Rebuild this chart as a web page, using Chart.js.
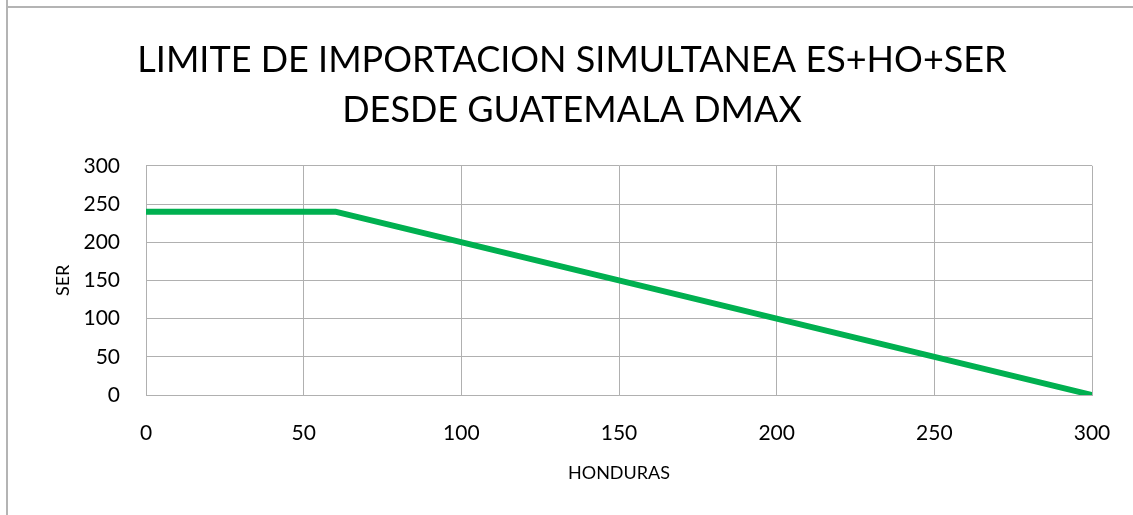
<!DOCTYPE html>
<html>
<head>
<meta charset="utf-8">
<script src="https://cdn.jsdelivr.net/npm/chart.js@4/dist/chart.umd.min.js"></script>
<style>
  html,body{margin:0;padding:0;background:#fff;}
  #wrap{position:relative;width:1133px;height:515px;overflow:hidden;}
  #edgeL{position:absolute;left:6px;top:0;width:2px;height:515px;background:#b4b4b4;}
  #edgeT{position:absolute;left:6px;top:6px;width:1127px;height:2px;background:#b4b4b4;}
  canvas{position:absolute;left:0;top:0;}
</style>
</head>
<body>
<div id="wrap">
  <canvas id="c" width="1133" height="515"></canvas>
  <div id="edgeL"></div><div id="edgeT"></div>
</div>
<script>
// data
const honduras = [0, 60, 300];
const ser = [240, 240, 0];
const titleLines = ['LIMITE DE IMPORTACION SIMULTANEA ES+HO+SER', 'DESDE GUATEMALA DMAX'];
const xTitle = 'HONDURAS';
const yTitle = 'SER';

const FONT = 'Lato, "Open Sans", sans-serif';
const GRID = '#b0b0b0';

const points = honduras.map((x,i)=>({x:x, y:ser[i]}));

new Chart(document.getElementById('c'), {
  type:'scatter',
  data:{ datasets:[{ data: points, showLine:true, borderColor:'#00b050', borderWidth:6,
    pointRadius:0, borderCapStyle:'round', borderJoinStyle:'round', tension:0 }] },
  options:{
    responsive:false, animation:false,
    layout:{ padding:{ left:52, right:41, top:0, bottom:27 } },
    plugins:{
      legend:{display:false}, tooltip:{enabled:false},
      title:{ display:true, text:titleLines, color:'#000',
        font:{family:FONT, size:36, weight:'normal', lineHeight:1.4}, padding:{top:35, bottom:30} }
    },
    scales:{
      x:{ type:'linear', min:0, max:300,
        ticks:{ stepSize:50, color:'#000', font:{family:FONT, size:21}, padding:26 },
        grid:{ color:GRID, drawTicks:false }, border:{ color:GRID },
        title:{ display:true, text:xTitle, color:'#000', font:{family:FONT, size:18}, padding:{top:12} },
        afterFit:s=>{ s.height = 93; s.paddingRight = 0; s.paddingLeft = 0; } },
      y:{ min:0, max:300,
        ticks:{ stepSize:50, color:'#000', font:{family:FONT, size:21}, padding:26 },
        grid:{ color:GRID, drawTicks:false }, border:{ color:GRID },
        title:{ display:true, text:yTitle, color:'#000', font:{family:FONT, size:18}, padding:0 },
        afterFit:s=>{ s.width = 94; } }
    }
  }
});
</script>
</body>
</html>
